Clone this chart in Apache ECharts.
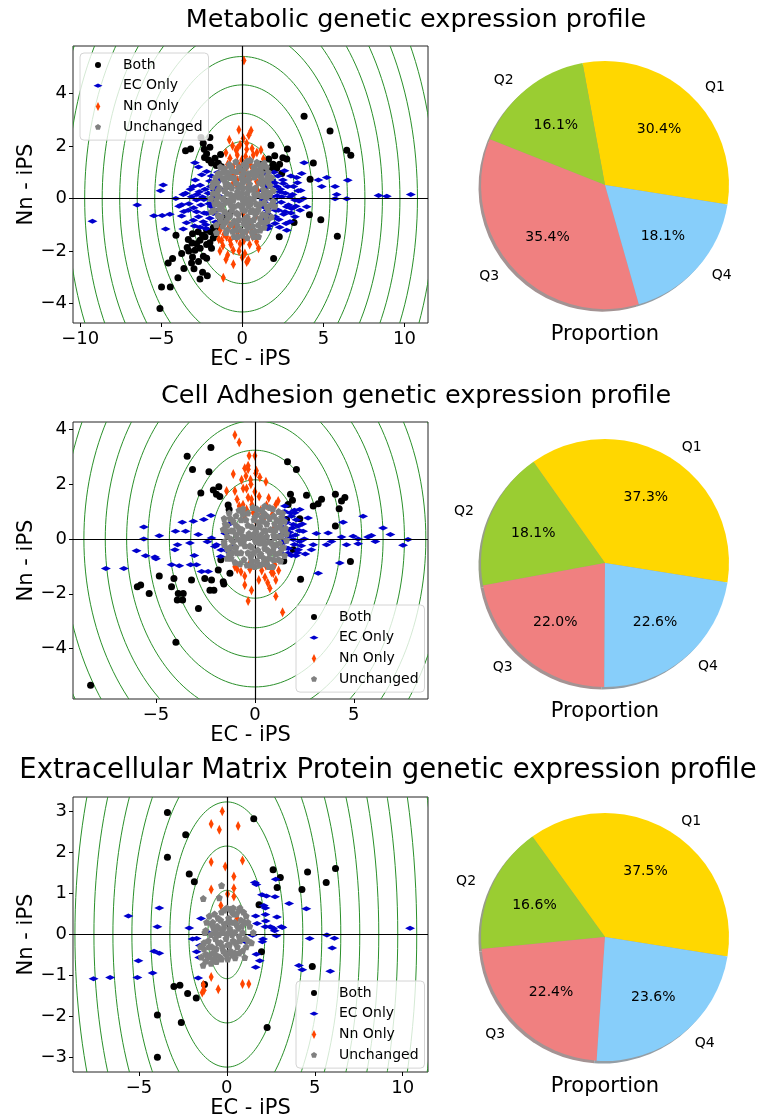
<!DOCTYPE html>
<html><head><meta charset="utf-8">
<script src="https://cdn.jsdelivr.net/npm/echarts@6/dist/echarts.min.js"></script>
<style>html,body{margin:0;padding:0;background:#fff}#c{width:761px;height:1120px}</style>
</head><body><div id="c"></div>
<script>
const titles = ['Metabolic genetic expression profile','Cell Adhesion genetic expression profile','Extracellular Matrix Protein genetic expression profile'];
const seriesNames = ['Both','EC Only','Nn Only','Unchanged'];
const pieLabels = ['Q1','Q2','Q3','Q4'];
const pie1 = [30.4,16.1,35.4,18.1];
const pie2 = [37.3,18.1,22.0,22.6];
const pie3 = [37.5,16.6,22.4,23.6];
const xTicks1=[-10,-5,0,5,10], yTicks1=[-4,-2,0,2,4];
const xTicks2=[-5,0,5], yTicks2=[-4,-2,0,2,4];
const xTicks3=[-5,0,5,10], yTicks3=[-3,-2,-1,0,1,2,3];
const contourRadii = [1.08,2.16,3.24,4.32,5.40,6.48,7.56,8.64,9.72,10.80,11.88,12.96,14.04];

// ---- Panel 1: Metabolic ----
const both1 = [[3.81,3.13],[5.41,2.57],[6.44,1.83],[6.69,1.64],[1.77,2.02],[2.78,1.88],[2.0,1.62],[1.63,1.50],[2.74,1.50],[1.30,1.17],[1.77,1.17],[0.93,0.93],[2.12,1.15],[2.43,0.95],[4.38,1.35],[4.18,0.73],[1.46,0.61],[1.44,0.47],[-0.82,0.47],[4.14,-0.62],[4.84,-0.81],[3.19,-0.92],[5.86,-1.44],[2.28,-1.46],[1.93,-2.29],[1.50,-0.66],[-3.50,1.81],[-3.19,1.88],[-2.55,2.32],[-2.0,2.32],[-2.41,2.10],[-2.0,1.95],[-2.35,1.87],[-2.33,1.56],[-2.08,1.46],[-1.69,1.53],[-1.34,1.67],[-1.48,1.34],[-1.28,1.21],[-4.09,-1.40],[-3.40,-1.87],[-3.74,-2.10],[-4.30,-2.29],[-4.57,-2.46],[-4.98,-3.37],[-4.44,-3.37],[-5.08,-4.19],[-3.97,-3.02],[-3.60,-2.67],[-3.07,-2.23],[-3.13,-2.46],[-2.98,-2.68],[-2.61,-3.07],[-2.45,-2.81],[-2.16,-2.94],[-2.20,-2.28],[-2.82,-1.72],[-2.61,-1.59],[-2.30,-1.46],[-2.0,-1.69],[-1.79,-1.51],[-1.63,-1.34],[-1.48,-1.12],[-1.38,-0.89],[-1.17,-0.83],[-0.93,-0.67],[-0.76,-0.57],[-3.07,-1.34],[-2.72,-1.27],[-2.45,-1.40],[-1.95,-1.27],[-1.79,-1.12],[-2.20,-1.21],[-1.58,-1.02],[-2.92,-1.97],[-3.33,-1.56],[-1.1,-0.75],[-1.3,-1.0],[-2.6,-1.9],[-3.1,-1.7],[-2.4,-2.2],[-2.7,-2.4],[-3.3,-2.0],[-1.9,-1.9],[-2.2,-1.75],[-2.2,1.7],[-1.9,1.35],[-1.6,1.25],[2.3,1.3],[1.9,1.3],[2.5,1.55],[1.1,1.3]];
const ecOnly1 = [[-9.24,-0.87],[-6.48,-0.25],[-4.88,0.51],[-5.04,0.29],[-3.64,0.15],[-3.74,-0.24],[-4.94,-0.65],[-5.45,-0.66],[-4.47,-0.60],[-4.73,-1.16],[-3.74,-0.67],[-3.64,-1.16],[-2.92,1.36],[-3.02,0.45],[-2.65,0.25],[-3.13,0.06],[-2.82,-0.06],[-3.33,-0.45],[-2.82,-0.51],[-3.02,-0.83],[-2.41,-0.89],[-2.20,1.02],[-2.0,0.66],[-2.37,-0.04],[-1.79,0.06],[-1.89,-0.32],[-2.20,-0.57],[-1.58,0.45],[-1.48,-0.19],[-1.79,-0.57],[-1.38,0.70],[-2.24,-1.15],[-3.44,-0.93],[10.39,0.15],[8.91,0.08],[8.40,0.11],[6.44,-0.01],[6.50,0.69],[5.72,0.45],[5.82,0.15],[5.72,-0.01],[5.21,0.80],[4.90,0.45],[4.69,0.70],[3.81,1.36],[3.66,0.95],[3.35,0.80],[3.15,0.45],[3.45,0.29],[3.77,0.0],[3.97,-0.32],[3.56,-0.45],[3.25,-0.70],[2.74,-1.21],[2.02,-0.95],[1.56,-1.15],[2.94,-0.89],[2.74,-0.32],[2.43,0.06],[2.12,0.45],[2.53,0.57],[1.81,0.70],[1.81,0.06],[1.50,0.25],[1.71,-0.32],[2.22,-0.45],[2.02,-0.70],[1.50,-0.57],[2.33,0.25],[2.94,0.06],[3.25,-0.06],[1.30,-0.06],[1.40,0.45],[1.30,-0.32],[1.91,-0.06],[2.63,-0.51],[3.05,-0.38],
  [-3.5,0.2],[-3.3,-0.2],[-3.2,0.35],[-3.0,-0.35],[-2.9,0.7],[-2.8,0.15],[-2.7,-0.7],[-2.6,0.5],[-2.55,-0.25],[-2.5,0.9],[-2.45,0.05],[-2.35,-0.55],[-2.3,0.35],[-2.25,-1.0],[-2.1,0.2],[-2.05,-0.2],[-2.0,-0.75],[-1.95,0.45],[-1.9,0.85],[-1.85,-0.5],[-1.75,-0.1],[-1.7,0.3],[-1.65,-0.9],[-1.6,0.6],[-1.55,-0.45],[-1.45,0.1],[-1.4,-0.65],[-1.35,0.35],[-3.9,-0.3],[-4.1,0.0],[-2.6,-1.1],[-2.95,-1.05],[-1.5,1.0],[-2.7,1.2],[-3.6,-0.5],
  [1.25,0.3],[1.35,-0.15],[1.45,0.65],[1.55,-0.45],[1.6,0.1],[1.7,0.45],[1.75,-0.75],[1.85,0.25],[1.9,-0.2],[2.0,0.6],[2.05,-0.45],[2.15,0.1],[2.2,0.85],[2.25,-0.8],[2.35,0.35],[2.4,-0.15],[2.5,0.7],[2.55,-0.6],[2.65,0.2],[2.7,-0.95],[2.8,0.45],[2.85,-0.25],[3.0,0.85],[3.0,-0.55],[3.1,0.15],[3.3,-0.3],[3.4,0.6],[3.5,-0.1],[1.4,0.95],[1.3,-0.8],[1.95,1.0],[2.6,1.05],[1.65,-1.05],[2.3,-1.1],[3.6,0.3]];
const nnOnly1 = [[0.10,5.25],[-0.21,2.61],[0.54,2.58],[-0.80,2.23],[0.06,2.29],[0.27,2.10],[-0.14,2.04],[-0.39,1.84],[1.15,1.84],[0.27,1.87],[-1.01,1.74],[-0.76,1.53],[-0.31,1.65],[-0.04,1.46],[0.68,1.65],[1.30,1.50],[-0.56,1.21],[-0.19,1.23],[0.27,1.21],[0.51,1.27],[-0.45,0.95],[-0.10,1.02],[0.16,0.89],[0.68,0.95],[-0.31,0.70],[0.06,0.70],[0.47,0.73],[0.88,0.64],[-0.35,0.53],[0.37,0.51],[0.93,0.32],[-1.13,-1.36],[-0.76,-1.59],[-1.38,-1.21],[-1.28,-1.59],[-0.97,-1.46],[-0.56,-1.27],[-0.35,-1.53],[-0.04,-1.40],[0.27,-1.27],[0.64,-1.46],[0.88,-1.65],[-0.14,-1.72],[-0.56,-1.97],[-1.38,-2.0],[-1.01,-2.32],[0.16,-2.10],[0.37,-2.33],[0.27,-2.42],[-1.17,-3.02],[0.06,-0.57],[-0.45,-1.08],[0.47,-0.89],[0.84,-0.67],[-0.76,-1.02],[-0.25,-0.83],
  [-0.6,2.0],[0.4,2.4],[-0.3,1.9],[0.6,1.9],[0.9,1.75],[-0.9,1.3],[0.85,1.3],[-0.65,0.85],[1.05,1.1],[1.1,0.65],[-0.55,0.6],[0.2,1.6],[0.45,1.45],[-0.3,1.35],[-1.2,-1.0],[-0.9,-1.2],[-1.45,-1.55],[-1.2,-1.8],[-0.7,-1.75],[-0.3,-1.3],[0.1,-1.6],[0.45,-1.75],[0.8,-1.4],[0.55,-1.15],[-0.2,-2.0],[-0.9,-2.15],[1.0,-1.9],[0.0,-2.25],[-0.55,-2.5]];
const unchanged1 = [[0,0],[0.3,0.2],[-0.3,0.25],[0.5,-0.2],[-0.5,-0.3],[0.8,0.4],[-0.8,0.5],[0.9,-0.5],[-0.9,-0.6],[0.2,0.7],[-0.2,-0.8],[1.2,0.1],[-1.2,0.0],[1.3,0.7],[-1.3,-0.7],[0.6,1.0],[-0.6,1.05],[0.4,-1.1],[-0.4,-1.2],[1.5,-0.3],[-1.5,0.3],[1.0,1.3],[-1.0,-1.3],[0.1,1.3],[0.0,-1.4],[1.7,0.5],[-1.7,-0.2],[1.4,-0.9],[-1.4,0.9],[0.7,-0.8],[-0.7,0.8],[1.1,-0.2],[-1.1,0.3],[0.15,-0.45],[-0.15,0.5],[0.35,0.95],[-0.35,-0.55],[1.6,1.0],[-1.8,0.6],[1.9,-0.1],[-1.9,-0.5],[0.55,0.35],[-0.55,-0.05],[0.95,0.15],[-0.95,0.2],[0.25,-0.15],[-0.25,-0.25],[1.25,-0.6],[-1.25,-0.3],[0.8,-1.25],[-0.8,1.3],[0.5,1.45],[-0.5,-1.45],[1.55,0.25],[-1.6,-1.0],[0.05,0.4],[0.65,-0.45],[-0.65,0.4],[1.05,0.6],[-1.05,-0.9],[1.35,1.35],[-1.35,1.2],[0.9,0.95],[-0.9,-0.1],[0.45,0.0],[-0.45,0.1],[0.1,-0.95],[0.0,0.9],[1.8,-0.7],[-1.6,-1.3],
  [-0.4,1.4],[0.3,1.42],[0.9,1.38],[1.3,1.3],[-1.1,1.15],[-0.7,1.2],[-0.2,1.18],[0.25,1.22],[0.7,1.2],[1.15,1.15],[1.5,1.2],[-1.5,0.95],[-1.2,1.0],[-0.9,0.98],[-0.35,1.02],[0.05,1.05],[0.55,0.95],[0.85,1.08],[1.2,0.98],[1.55,0.85],[-1.65,0.8],[-1.2,0.75],[-0.95,0.82],[-0.5,0.78],[-0.05,0.8],[0.4,0.75],[0.75,0.82],[1.15,0.8],[1.45,0.7],[1.8,0.8],[-1.85,0.45],[-1.55,0.6],[-1.05,0.62],[-0.4,0.6],[0.05,0.62],[0.45,0.55],[1.25,0.55],[1.6,0.62],[-1.4,0.4],[-1.0,0.45],[-0.25,0.38],[0.35,0.42],[0.7,0.35],[1.3,0.35],[1.9,0.3],[-1.8,0.2],[-1.5,0.1],[-0.7,0.15],[0.0,0.2],[0.75,0.15],[1.35,0.2],[1.7,0.15],[-1.95,0.0],[-1.6,-0.05],[-0.75,-0.05],[-0.2,0.05],[0.2,0.0],[0.7,0.0],[1.5,0.05],[2.0,-0.3],[-1.45,-0.2],[-1.05,-0.15],[-0.7,-0.25],[0.05,-0.2],[0.4,-0.3],[0.85,-0.2],[1.35,-0.15],[1.75,-0.25],[-1.75,-0.45],[-1.4,-0.4],[-1.1,-0.5],[-0.65,-0.45],[0.0,-0.4],[0.5,-0.5],[1.0,-0.4],[1.6,-0.45],[-1.5,-0.65],[-0.75,-0.65],[-0.25,-0.6],[0.3,-0.7],[0.8,-0.6],[1.1,-0.75],[1.45,-0.65],[-1.35,-0.85],[-0.95,-0.8],[-0.5,-0.85],[0.15,-0.78],[0.45,-0.85],[1.2,-0.9],[1.55,-0.85],[-1.2,-1.05],[-0.7,-1.0],[-0.3,-1.02],[0.25,-1.0],[0.65,-1.05],[1.0,-1.0],[1.35,-1.1],[-0.95,-1.2],[-0.6,-1.25],[-0.1,-1.2],[0.2,-1.25],[0.6,-1.3],[1.1,-1.2],[-0.3,-1.45],[0.3,-1.5],[0.7,-1.45],[1.0,-1.45]];

// ---- Panel 2: Cell Adhesion ----
const both2 = [[-8.30,-5.34],[-3.99,-3.77],[-3.42,3.02],[-3.15,2.54],[-2.22,3.34],[-2.32,2.45],[-2.73,1.68],[-2.10,1.79],[-1.82,1.91],[-1.94,1.63],[-1.77,1.55],[-1.35,1.24],[-1.30,1.08],[1.65,2.82],[2.10,2.54],[1.80,1.63],[1.90,1.41],[1.68,1.26],[2.61,1.60],[2.95,1.20],[3.20,1.29],[3.37,1.45],[4.07,1.63],[4.38,1.39],[4.55,1.51],[4.26,1.10],[4.07,0.47],[4.83,-0.82],[1.60,0.71],[1.43,0.71],[2.27,0.74],[1.94,-0.39],[1.46,-0.80],[2.31,-1.47],[-1.72,-0.76],[-1.85,-1.13],[-1.26,-1.25],[-1.60,-1.56],[-1.57,-1.64],[-2.19,-1.50],[-2.53,-1.44],[-2.27,-1.87],[-2.07,-1.87],[-2.85,-2.54],[-3.20,-1.50],[-3.65,-2.23],[-3.92,-2.23],[-3.87,-1.99],[-3.62,-1.99],[-4.21,-1.74],[-4.09,-1.44],[-4.83,-1.35],[-5.34,-1.99],[-5.77,-1.68],[-5.94,-1.74]];
const ecOnly2 = [[-7.53,-1.08],[-6.62,-1.08],[-5.98,-0.43],[-5.61,0.44],[-5.61,0.0],[-5.52,-0.61],[-5.05,-0.66],[-5.0,-0.72],[-4.83,0.12],[-4.01,0.28],[-3.91,-0.21],[-4.04,-0.39],[-3.67,0.61],[-4.21,-0.94],[-3.82,-0.98],[-3.50,0.28],[-3.28,-0.15],[-3.11,0.65],[-2.86,0.16],[-3.06,-0.60],[-3.25,-0.94],[-2.95,-0.94],[-2.69,-1.19],[-2.36,-1.19],[-2.58,0.71],[-2.22,0.86],[-2.19,0.04],[-1.94,-0.21],[-2.02,-0.27],[-1.73,-0.64],[-1.26,0.56],[-1.09,-0.27],[7.74,-0.02],[7.49,-0.23],[6.85,0.16],[6.48,0.40],[6.09,-0.09],[5.89,0.13],[5.72,0.07],[5.47,0.83],[5.22,0.0],[5.22,-0.17],[4.97,0.10],[4.63,-0.21],[4.46,0.61],[4.38,0.07],[4.29,-0.88],[3.87,-0.09],[3.70,0.22],[3.62,-0.21],[3.20,-1.25],[3.11,0.20],[2.95,-0.21],[2.86,-0.39],[2.69,0.77],[2.44,0.28],[2.27,-0.09],[2.19,-0.39],[2.02,0.96],[1.94,0.53],[1.77,0.10],[1.60,0.34],[1.52,1.20],[1.43,-0.15],[1.68,-0.52],[1.94,-0.02],[2.19,0.47],[2.27,1.08],[1.60,-0.33],[1.35,0.16],[1.85,0.83],[2.07,-0.61],[1.30,-0.52],
  [1.35,0.45],[1.45,0.75],[1.55,-0.05],[1.6,0.6],[1.7,-0.35],[1.75,0.25],[1.8,0.95],[1.85,-0.6],[1.9,0.4],[2.0,-0.2],[2.05,0.15],[2.1,0.7],[2.15,-0.5],[2.25,0.3],[2.35,-0.25],[2.4,0.55],[2.5,0.0],[1.5,1.0],[1.65,0.1],[2.55,-0.55],[2.0,1.05],[1.4,-0.35],[-1.5,0.2],[-1.7,-0.4],[-2.4,-0.1],[-1.35,-0.45]];
const nnOnly2 = [[-1.01,3.80],[-0.79,3.53],[-0.29,3.04],[0.0,3.04],[-0.34,2.67],[-0.51,2.58],[-0.34,2.55],[0.08,2.49],[0.05,2.40],[-1.09,2.37],[-0.67,2.16],[-0.22,2.16],[0.56,2.09],[-1.43,1.75],[-1.01,1.75],[-0.59,1.84],[-0.42,1.84],[0.0,1.72],[0.22,1.55],[-0.34,1.51],[-0.17,1.45],[1.18,1.39],[1.06,1.26],[0.59,1.23],[-0.79,1.20],[-0.42,1.08],[-0.08,0.96],[0.89,0.90],[-0.51,0.77],[0.51,0.83],[0.05,0.65],[0.93,0.34],[-1.01,-1.01],[-0.89,-1.10],[-0.25,-0.88],[0.59,-0.82],[1.01,-0.94],[0.84,-1.21],[0.93,-1.25],[0.51,-1.40],[1.06,-1.50],[-0.51,-1.35],[-0.51,-1.68],[-0.17,-1.87],[0.76,-1.80],[1.06,-2.09],[-0.34,-2.26],[1.40,-2.67],[0.56,-0.98],
  [-0.9,1.45],[-0.6,1.25],[0.3,1.05],[0.7,1.5],[-0.2,2.0],[0.25,2.25],[-0.45,2.3],[0.4,1.0],[-0.15,1.25],[0.35,-1.15],[-0.25,-1.1],[0.65,-1.6],[0.2,-1.5],[-0.7,-1.2],[1.2,-1.15]];
const unchanged2 = [[0,0],[0.3,0.15],[-0.3,0.2],[0.5,-0.2],[-0.5,-0.25],[0.8,0.35],[-0.8,0.4],[0.9,-0.45],[-0.9,-0.5],[0.2,0.6],[-0.2,-0.65],[1.2,0.1],[-1.2,0.0],[1.3,0.6],[-1.3,-0.55],[0.6,0.85],[-0.6,0.9],[0.4,-0.9],[-0.4,-0.95],[1.45,-0.3],[-1.45,0.3],[0.9,1.1],[-1.0,-0.85],[0.1,1.1],[0.0,-1.0],[1.55,0.4],[-1.55,-0.2],[1.2,-0.75],[-1.25,0.75],[0.7,-0.7],[-0.7,0.7],[1.1,-0.2],[-1.1,0.3],[0.15,-0.4],[-0.15,0.45],[0.35,0.8],[-0.35,-0.5],[1.4,0.95],[-1.5,0.55],[0.55,0.3],[-0.55,-0.05],[0.95,0.15],[-0.95,0.15],[0.25,-0.15],[-0.25,-0.25],[1.25,-0.5],[-1.25,-0.3],[0.7,-1.0],[-0.8,1.05],[0.5,1.2],[0.05,0.35],[0.65,-0.4],[-0.65,0.35],[1.0,0.55],[-1.0,-0.3],[0.45,0.0],[-0.45,0.05],[0.1,-0.8],[0.0,0.8],[1.5,-0.6],[-1.4,-0.7],[0.85,-0.15],[-0.85,0.0],[0.3,-0.55],[-0.1,0.15],[0.15,0.05],
  [-0.6,1.1],[-0.1,1.15],[0.35,1.05],[0.75,1.15],[1.2,1.0],[-1.3,0.95],[-0.95,0.85],[-0.35,0.95],[0.1,0.9],[0.45,0.95],[0.95,0.85],[1.35,0.8],[-1.55,0.75],[-1.1,0.65],[-0.45,0.7],[-0.05,0.7],[0.4,0.65],[0.75,0.75],[1.1,0.7],[1.5,0.65],[-1.4,0.5],[-0.95,0.5],[-0.35,0.5],[0.25,0.45],[0.6,0.55],[1.25,0.45],[1.6,0.2],[-1.6,0.35],[-1.2,0.3],[-0.75,0.25],[0.05,0.25],[0.45,0.3],[1.05,0.35],[1.4,0.3],[-1.4,0.1],[-0.6,0.1],[-0.3,0.05],[0.6,0.1],[1.0,0.05],[1.35,0.1],[-1.55,-0.1],[-1.1,-0.1],[-0.7,-0.15],[0.05,-0.1],[0.35,-0.05],[0.7,-0.1],[1.25,-0.15],[1.6,-0.05],[-1.4,-0.35],[-0.95,-0.3],[-0.15,-0.3],[0.5,-0.35],[0.95,-0.3],[1.35,-0.35],[-1.15,-0.5],[-0.7,-0.5],[-0.05,-0.5],[0.25,-0.6],[0.75,-0.5],[1.05,-0.55],[-1.2,-0.7],[-0.55,-0.75],[-0.15,-0.8],[0.45,-0.7],[0.95,-0.75],[1.3,-0.8],[-0.75,-0.9],[-0.2,-0.95],[0.25,-0.95],[0.6,-0.9],[0.9,-1.0]];

// ---- Panel 3: Extracellular Matrix Protein ----
const both3 = [[-3.38,2.98],[-2.34,2.44],[-3.38,1.89],[-2.14,1.48],[-1.85,1.29],[1.53,2.83],[2.63,1.58],[3.04,1.39],[2.86,1.15],[4.59,1.53],[4.27,1.10],[5.65,1.27],[6.18,1.61],[1.83,0.73],[1.97,-0.42],[4.86,-0.78],[-1.27,-1.22],[-1.74,-1.55],[-2.23,-1.44],[-2.67,-1.24],[-3.01,-1.27],[-3.95,-1.97],[-2.59,-2.15],[-3.95,-3.0],[2.29,-2.27]];
const ecOnly3 = [[-7.58,-1.08],[-6.64,-1.05],[-5.09,-1.05],[-5.03,-0.64],[-5.60,0.45],[-3.84,0.65],[-3.95,0.19],[-4.14,-0.41],[-3.84,-0.46],[-4.22,-0.94],[-2.14,0.16],[-1.47,0.39],[-1.06,0.05],[-1.95,-0.11],[-1.72,-0.10],[-1.53,-0.27],[-1.72,-0.42],[-1.57,-0.56],[-1.63,-1.06],[1.59,1.27],[1.68,1.22],[2.0,0.97],[2.25,0.94],[2.74,0.92],[2.78,1.35],[3.54,0.76],[2.10,0.71],[2.19,0.65],[1.64,0.45],[2.19,0.49],[2.85,0.43],[2.21,0.33],[1.72,0.27],[2.19,0.19],[2.48,0.19],[2.63,0.15],[2.72,0.09],[3.10,0.19],[3.16,0.17],[1.46,-0.02],[2.06,-0.11],[2.02,-0.18],[1.12,-0.19],[1.68,-0.48],[1.87,-0.64],[1.64,-0.80],[2.82,-0.03],[4.52,0.63],[5.69,-0.01],[6.12,-0.09],[5.99,-0.33],[4.71,-0.10],[4.10,-0.76],[4.29,-0.86],[5.88,-0.90],[10.42,0.15]];
const nnOnly3 = [[-0.26,3.01],[-0.89,2.70],[-0.43,2.56],[0.64,2.65],[-0.89,1.77],[0.89,1.81],[-0.09,1.66],[0.40,1.42],[-0.89,1.10],[0.40,1.13],[0.04,0.99],[0.40,0.93],[-0.34,0.71],[0.26,0.56],[0.59,0.40],[-0.89,-1.04],[-1.34,-1.23],[-1.30,-1.36],[-1.40,-1.42],[-0.49,-1.34],[0.89,-1.21],[1.25,-1.21]];
const unchanged3 = [[0,0],[0.2,0.1],[-0.2,0.15],[0.35,-0.15],[-0.35,-0.2],[0.55,0.25],[-0.55,0.2],[0.6,-0.3],[-0.6,-0.35],[0.1,0.4],[-0.1,-0.45],[0.9,0.05],[-0.9,0.0],[1.0,0.3],[-1.0,-0.3],[0.4,0.5],[-0.3,0.55],[0.3,-0.5],[-0.4,-0.55],[1.2,-0.15],[-1.2,0.1],[0.7,0.6],[-0.8,-0.45],[0.0,0.65],[0.05,-0.6],[1.3,0.2],[-1.3,-0.35],[0.9,-0.4],[-0.5,0.4],[0.25,0.3],[-0.25,-0.3],[0.75,-0.15],[-0.75,0.15],[0.15,-0.25],[-0.15,0.25],[1.1,0.45],[-1.1,-0.5],[-1.45,-0.55],[-1.5,-0.3],[0.45,0.05],[-0.45,0.0],[0.65,0.15],[-0.65,-0.1],[0.1,0.05],[-0.05,-0.1],[0.8,0.35],[-0.8,0.3],[0.3,0.55],[-0.3,-0.6],[-0.3,1.2],[-1.34,0.88],[-0.43,0.90],[0.47,-0.57],[1.02,-0.56],[-0.59,-0.66],[-1.21,-0.48],[0.36,0.65],[0.74,0.65],[-0.9,-0.7],[1.5,0.05],[1.4,-0.2],
  [-1.0,0.45],[-0.7,0.5],[-0.15,0.6],[0.2,0.62],[0.55,0.5],[0.95,0.55],[-1.15,0.3],[-0.85,0.25],[-0.35,0.35],[0.05,0.3],[0.45,0.3],[0.85,0.2],[1.2,0.3],[-1.25,0.05],[-0.65,0.05],[-0.25,0.05],[0.3,0.0],[0.7,-0.05],[1.05,-0.1],[-1.05,-0.15],[-0.5,-0.2],[0.05,-0.25],[0.5,-0.2],[1.1,-0.3],[-1.3,-0.2],[-0.85,-0.3],[-0.2,-0.4],[0.2,-0.4],[0.7,-0.45],[-1.0,-0.55],[-0.6,-0.5],[0.0,-0.5],[0.45,-0.45],[-0.45,0.15],[0.15,0.15],[-1.35,-0.75],[-1.2,-0.65],[-0.75,-0.6]];

// ---------- layout & styling ----------
const FONT = 'DejaVu Sans';
const panels = [
  {grid:{left:73,top:46,width:355,height:277}, xr:[-10.44,11.45], yr:[-4.74,5.80], xt:xTicks1, yt:yTicks1,
   sets:[both1,ecOnly1,nnOnly1,unchanged1], legend:{left:80,top:53}, pie:pie1, pieC:[605,185], titleY:20, titleSize:25.5, propY:335},
  {grid:{left:73,top:422,width:355,height:277}, xr:[-9.19,8.75], yr:[-5.84,4.27], xt:xTicks2, yt:yTicks2,
   sets:[both2,ecOnly2,nnOnly2,unchanged2], legend:{left:296,top:605}, pie:pie2, pieC:[605,563], titleY:396, titleSize:25.5, propY:712},
  {grid:{left:73,top:797,width:355,height:277}, xr:[-8.75,11.44], yr:[-3.36,3.36], xt:xTicks3, yt:yTicks3,
   sets:[both3,ecOnly3,nnOnly3,unchanged3], legend:{left:296,top:981}, pie:pie3, pieC:[605,937], titleY:771, titleSize:27.5, propY:1087}
];
const titleX = [416,416,388];
const PIE_R = 124;
const pieColors = ['#FFD700','#9ACD32','#F08080','#87CEFA'];
function shadowOf(hex){
  const n=parseInt(hex.slice(1),16); const c=[(n>>16)&255,(n>>8)&255,n&255];
  return 'rgb('+c.map(v=>Math.round(0.5*0.3*v+0.5*255)).join(',')+')';
}
const symColors = ['#000000','#0000CD','#FF4500','#808080'];
const pentagon = 'path://M0,-1L0.951,-0.309L0.588,0.809L-0.588,0.809L-0.951,-0.309Z';
const symbols = ['circle','diamond','diamond',pentagon];
const symSizes = [7,[10,5],[5,10],7];
const legendIcons = [
  'path://M0,0M34,9M11,4.5A3,3 0 1,0 17,4.5A3,3 0 1,0 11,4.5Z',
  'path://M0,0M34,9M9.5,4.5L14,2.4L18.5,4.5L14,6.6Z',
  'path://M0,0M34,9M11.8,4.5L14,0L16.2,4.5L14,9Z',
  'path://M0,0M34,9M14,1.3L17.04,3.51L15.88,7.09L12.12,7.09L10.96,3.51Z'
];
const minus = v => (v<0 ? '\u2212'+(-v) : ''+v);

function contourItem(params, api){
  const r = api.value(0); const pts=[];
  for(let a=0;a<=360;a+=2){const t=a*Math.PI/180; pts.push(api.coord([r*Math.cos(t), r*Math.sin(t)]));}
  const cs = params.coordSys;
  return {type:'polyline', shape:{points:pts}, silent:true,
    clipPath:{type:'rect', shape:{x:cs.x,y:cs.y,width:cs.width,height:cs.height}},
    style:{stroke:'#2a902a', lineWidth:1, fill:'none'}};
}

const option = {
  backgroundColor:'#fff', animation:false,
  textStyle:{fontFamily:FONT},
  grid: panels.map(p=>Object.assign({show:true, borderColor:'#222', borderWidth:1, backgroundColor:'transparent'}, p.grid)),
  xAxis: panels.map((p,i)=>({gridIndex:i, type:'value', min:p.xr[0], max:p.xr[1],
    splitLine:{show:false}, axisLine:{show:false, onZero:false},
    axisTick:{show:true, length:4, customValues:p.xt, lineStyle:{color:'#000'}},
    axisLabel:{customValues:p.xt, formatter:minus, fontSize:18, color:'#000', margin:7, fontFamily:FONT},
    name:'EC - iPS', nameLocation:'middle', nameGap:26, nameTextStyle:{fontSize:21, color:'#000', fontFamily:FONT}})),
  yAxis: panels.map((p,i)=>({gridIndex:i, type:'value', min:p.yr[0], max:p.yr[1],
    splitLine:{show:false}, axisLine:{show:false, onZero:false},
    axisTick:{show:true, length:4, customValues:p.yt, lineStyle:{color:'#000'}},
    axisLabel:{customValues:p.yt, formatter:minus, fontSize:18, color:'#000', margin:6, fontFamily:FONT},
    name:'Nn - iPS', nameLocation:'middle', nameGap:34, nameTextStyle:{fontSize:21, color:'#000', fontFamily:FONT}})),
  legend: panels.map(p=>({orient:'vertical', left:p.legend.left, top:p.legend.top,
    data: seriesNames.map((n,k)=>({name:n, icon:legendIcons[k]})),
    itemWidth:34, itemHeight:9, itemGap:4.7, padding:[4,6,5,4], selectedMode:false,
    borderColor:'#d4d4d4', borderWidth:1, borderRadius:4, backgroundColor:'rgba(255,255,255,0.8)',
    textStyle:{fontFamily:FONT, fontSize:14, color:'#000', lineHeight:16}})),
  graphic: [].concat(
    panels.map((p,i)=>({type:'text', x:titleX[i], y:p.titleY, silent:true,
      style:{text:titles[i], font:p.titleSize+'px "DejaVu Sans"', fill:'#000', textAlign:'center', textVerticalAlign:'middle'}})),
    panels.map(p=>({type:'text', x:p.pieC[0], y:p.propY, silent:true,
      style:{text:'Proportion', font:'21px "DejaVu Sans"', fill:'#000', textAlign:'center', textVerticalAlign:'middle'}}))
  ),
  series: []
};

panels.forEach((p,i)=>{
  option.series.push({type:'custom', xAxisIndex:i, yAxisIndex:i, renderItem:contourItem, silent:true, z:1,
    data: contourRadii.map(r=>[r,0]), clip:true,
    markLine:{silent:true, symbol:'none', label:{show:false}, animation:false,
      lineStyle:{color:'#000', width:1.2, type:'solid'}, emphasis:{disabled:true},
      data:[{xAxis:0},{yAxis:0}]}});
  p.sets.forEach((d,k)=>{
    option.series.push({type:'scatter', name:seriesNames[k], xAxisIndex:i, yAxisIndex:i, data:d,
      symbol:symbols[k], symbolSize:symSizes[k], z:2+k, silent:true, large:false,
      itemStyle:{color:symColors[k], opacity:1}});
  });
  option.series.push({type:'pie', center:[p.pieC[0]-2.5, p.pieC[1]+2.5], radius:PIE_R, startAngle:-9, clockwise:false,
    silent:true, z:1, avoidLabelOverlap:false, label:{show:false}, labelLine:{show:false},
    data:p.pie.map((v,k)=>({name:pieLabels[k], value:v, itemStyle:{color:shadowOf(pieColors[k])}}))});
  option.series.push({type:'pie', center:p.pieC, radius:PIE_R, startAngle:-9, clockwise:false,
    silent:true, z:2, avoidLabelOverlap:false,
    label:{show:true, position:'outside', formatter:'{b}', fontSize:14, color:'#000', fontFamily:FONT},
    labelLine:{show:false, length:12, length2:0},
    data:p.pie.map((v,k)=>({name:pieLabels[k], value:v, itemStyle:{color:pieColors[k], borderWidth:0}}))});
  option.series.push({type:'pie', center:p.pieC, radius:PIE_R*1.2, startAngle:-9, clockwise:false,
    silent:true, z:3, avoidLabelOverlap:false,
    label:{show:true, position:'inside', formatter:q=>q.value.toFixed(1)+'%', fontSize:14, color:'#000', fontFamily:FONT},
    labelLine:{show:false},
    data:p.pie.map((v,k)=>({name:pieLabels[k], value:v, itemStyle:{color:'rgba(0,0,0,0)', borderWidth:0}}))});
});

const chart = echarts.init(document.getElementById('c'), null, {renderer:'canvas'});
chart.setOption(option);
</script></body></html>
